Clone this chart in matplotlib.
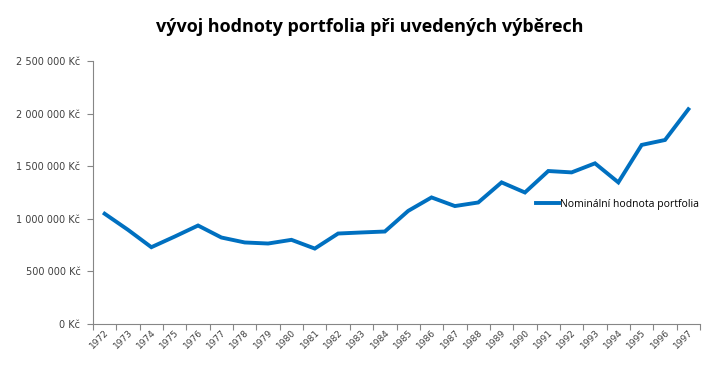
import matplotlib.pyplot as plt
import numpy as np

# data
roky = [str(r) for r in range(1972, 1998)]
hodnota = [1048000, 895000, 730000, 831000, 936000, 822000, 775000, 765000,
           800000, 717000, 860000, 870000, 879000, 1075000, 1203000, 1121000,
           1155000, 1346000, 1250000, 1454000, 1441000, 1527000, 1346000,
           1702000, 1749000, 2041000]
y_ticks = [0, 500000, 1000000, 1500000, 2000000, 2500000]

plt.rcParams['font.family'] = ['Open Sans', 'DejaVu Sans']

fig = plt.figure(figsize=(7.18, 3.65), dpi=100)
ax = fig.add_axes([0.1295, 0.1123, 0.8455, 0.7207])

x = np.arange(len(roky))
ax.plot(x, hodnota, color='#0070C0', linewidth=2.8, solid_joinstyle='miter',
        label='Nominální hodnota portfolia')

ax.set_xlim(-0.5, len(roky) - 0.5)
ax.set_ylim(0, 2500000)
ax.set_yticks(y_ticks)
ax.set_yticklabels([f"{v:,}".replace(",", " ") + " Kč" for v in y_ticks],
                   fontsize=7, family='DejaVu Sans', color='#404040')

# ticky mezi kategoriemi, popisky na stredech
ax.set_xticks(np.arange(-0.5, len(roky), 1))
ax.set_xticklabels([])
ax.set_xticks(x, minor=True)
ax.set_xticklabels(roky, minor=True, rotation=45, fontsize=6.5, ha='right',
                   rotation_mode='anchor', family='DejaVu Sans', color='#404040')
ax.tick_params(axis='x', which='minor', length=0, pad=3)
ax.tick_params(axis='x', which='major', length=4, color='#868686')
ax.tick_params(axis='y', length=4, color='#868686', pad=5)

for s in ['top', 'right']:
    ax.spines[s].set_visible(False)
for s in ['left', 'bottom']:
    ax.spines[s].set_color('#868686')

fig.text(0.515, 0.925, 'vývoj hodnoty portfolia při uvedených výběrech',
         ha='center', va='center', fontsize=13, fontweight='bold')

ax.legend(loc='center left', bbox_to_anchor=(0.715, 0.455), frameon=False,
          fontsize=7.5, handlelength=2.2, handletextpad=0.1)

fig.savefig('out.png', dpi=100)
